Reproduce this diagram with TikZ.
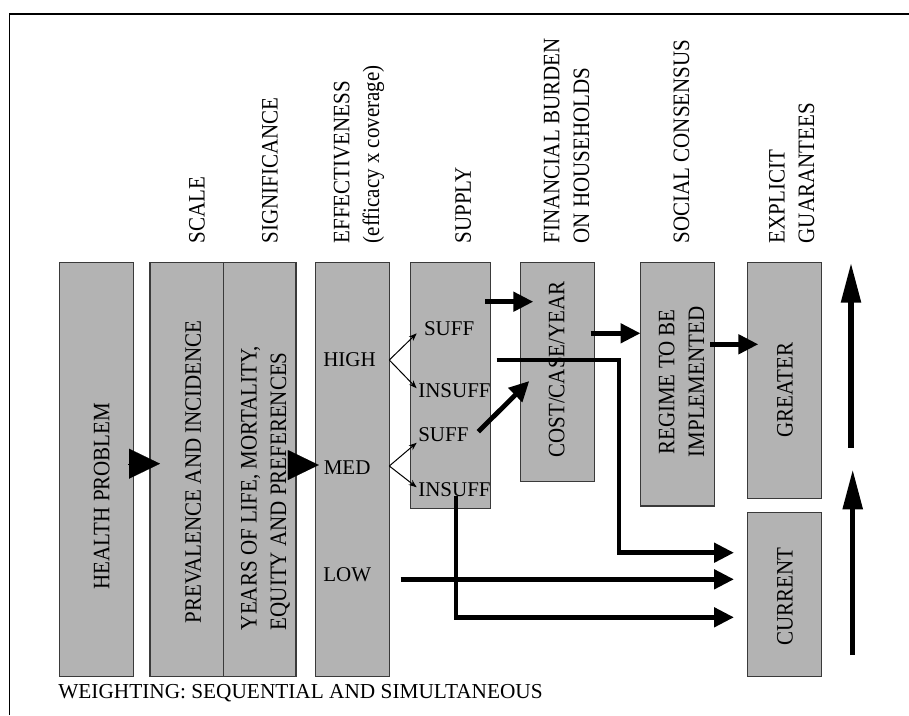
\documentclass[tikz,border=0pt]{standalone}
\usepackage{fontspec}
\setmainfont{Liberation Serif}
\usetikzlibrary{arrows.meta}
\definecolor{boxgray}{HTML}{B3B3B3}
\definecolor{boxline}{HTML}{3A3A3A}
\begin{document}
\begin{tikzpicture}[x=1pt,y=-1pt,
  box/.style={draw=boxline, fill=boxgray, line width=1.3pt, rectangle, inner sep=0pt, outer sep=0pt},
  txt/.style={inner sep=0pt, outer sep=0pt, font=\fontsize{21}{26.5}\selectfont},
  vtxt/.style={txt, rotate=90, yscale=1.12},
  toplab/.style={vtxt, anchor=west, align=left},
  thickarrow/.style={line width=4.8pt, -{Triangle[length=20pt,width=19pt]}},
  longarrow/.style={line width=5.5pt, -{Triangle[length=40pt,width=19pt]}},
  fork/.style={line width=1pt, -{Stealth[length=8pt,width=6pt]}},
  bigtri/.style={line width=0.1pt, -{Triangle[length=31pt,width=30pt]}},
  ]
\useasboundingbox (0,0) rectangle (909,715);
% frame
\draw[line width=1.2pt] (9.3,715) -- (9.3,14) -- (909,14);

% top labels
\node[toplab] (lscale) at (197,243.3) {SCALE};
\node[toplab] (lsig) at (270,243.3) {SIGNIFICANCE};
\node[toplab] (leff) at (359,243.3) {EFFECTIVENESS\\(efficacy x coverage)};
\node[toplab] (lsup) at (463.3,243.3) {SUPPLY};
\node[toplab] (lfin) at (566.5,243.3) {FINANCIAL BURDEN\\ON HOUSEHOLDS};
\node[toplab] (lsoc) at (681.5,243.3) {SOCIAL CONSENSUS};
\node[toplab] (lexp) at (791.7,243.3) {EXPLICIT\\GUARANTEES};

% boxes
\node[box, minimum width=74pt, minimum height=414.4pt] (health) at (96.3,469.5) {};
\node[box, minimum width=73.3pt, minimum height=414.4pt] (prev) at (186.65,469.5) {};
\node[box, minimum width=72.7pt, minimum height=414.4pt] (sig) at (259.65,469.5) {};
\node[box, minimum width=74pt, minimum height=414.4pt] (eff) at (352.3,469.5) {};
\node[box, minimum width=80pt, minimum height=246pt] (supply) at (450.7,385.3) {};
\node[box, minimum width=74pt, minimum height=219.4pt] (cost) at (557.7,372) {};
\node[box, minimum width=73.6pt, minimum height=243.7pt] (regime) at (677.5,384.15) {};
\node[box, minimum width=74.4pt, minimum height=236pt] (greater) at (784.5,380.3) {};
\node[box, minimum width=74.4pt, minimum height=164pt] (current) at (784.5,594.7) {};

% box texts
\node[vtxt] (thealth) at (101.7,496) {HEALTH PROBLEM};
\node[vtxt] (tprev) at (193.3,471.7) {PREVALENCE AND INCIDENCE};
\node[vtxt, anchor=west, align=left] (tsig) at (265.5,630) {YEARS OF LIFE, MORTALITY,\\EQUITY AND PREFERENCES};
\node[txt, anchor=west] (high) at (323.3,360) {HIGH};
\node[txt, anchor=west] (med) at (323.8,468) {MED};
\node[txt, anchor=west] (low) at (323.3,575) {LOW};
\node[txt, anchor=west] (suffa) at (424,329) {SUFF};
\node[txt, anchor=west] (insuffa) at (418.3,391) {INSUFF};
\node[txt, anchor=west] (suffb) at (418.3,435) {SUFF};
\node[txt, anchor=west] (insuffb) at (418.3,489.3) {INSUFF};
\node[vtxt] (tcost) at (556.7,369.5) {COST/CASE/YEAR};
\node[vtxt, align=center] (tregime) at (681.5,382) {REGIME TO BE\\IMPLEMENTED};
\node[vtxt] (tgreater) at (785,390) {GREATER};
\node[vtxt] (tcurrent) at (785,596.7) {CURRENT};
\node[txt, anchor=west, font=\fontsize{21.3}{25}\selectfont] (weight) at (58.3,693.3) {WEIGHTING: SEQUENTIAL AND SIMULTANEOUS};

% coordinates for connector ends
\coordinate (t1s) at (128.3,463.7);
\coordinate (t1e) at (160,463.7);
\coordinate (t2s) at (288.3,465);
\coordinate (t2e) at (318.8,465);
\coordinate (fh) at (389.3,360);
\coordinate (fha) at (416.7,333.3);
\coordinate (fhb) at (416.7,388.3);
\coordinate (fm) at (389.3,466);
\coordinate (fma) at (416.7,442.7);
\coordinate (fmb) at (416.7,487.3);
\coordinate (a1s) at (485,301.7);
\coordinate (a1e) at (533.3,301.7);
\coordinate (a2s) at (590.7,333.3);
\coordinate (a2e) at (640.5,333.3);
\coordinate (a3s) at (710,344.3);
\coordinate (a3e) at (758.3,344.3);
\coordinate (ds) at (478.3,431.7);
\coordinate (de) at (529.3,381);
\coordinate (pa) at (496.7,360);
\coordinate (pat) at (734,552.7);
\coordinate (pbs) at (400.7,579.3);
\coordinate (pbt) at (734,579.3);
\coordinate (pc) at (456,496);
\coordinate (pct) at (734,617.3);
\coordinate (ua) at (851,447.7);
\coordinate (uat) at (851,262.7);
\coordinate (ub) at (852.7,655);
\coordinate (ubt) at (852.7,469.3);

% big triangles
\draw[bigtri] (t1s) -- (t1e);
\draw[bigtri] (t2s) -- (t2e);
% forks
\draw[fork] (fh) -- (fha);
\draw[fork] (fh) -- (fhb);
\draw[fork] (fm) -- (fma);
\draw[fork] (fm) -- (fmb);
% thick arrows
\draw[thickarrow] (a1s) -- (a1e);
\draw[thickarrow] (a2s) -- (a2e);
\draw[thickarrow] (a3s) -- (a3e);
\draw[thickarrow] (ds) -- (de);
\draw[thickarrow] (pa) -| (619,552.7) -- (pat);
\draw[thickarrow] (pbs) -- (pbt);
\draw[thickarrow] (pc) |- (pct);
% long vertical arrows
\draw[longarrow] (ua) -- (uat);
\draw[longarrow] (ub) -- (ubt);
\end{tikzpicture}
\end{document}
